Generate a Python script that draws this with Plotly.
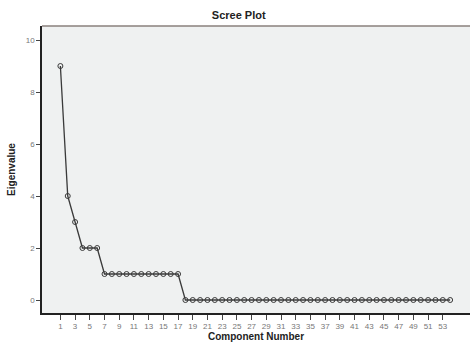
import plotly.graph_objects as go

components = list(range(1, 55))
eigenvalues = [9, 4, 3, 2, 2, 2] + [1] * 11 + [0] * 37
x_ticks = list(range(1, 54, 2))
y_ticks = [0, 2, 4, 6, 8, 10]

fig = go.Figure()
fig.add_trace(go.Scatter(
    x=components, y=eigenvalues, mode="lines+markers",
    line=dict(color="#3a3a3a", width=1.3),
    marker=dict(symbol="circle-open", size=5, color="#3a3a3a", line=dict(width=1)),
    showlegend=False, hoverinfo="skip",
))

fig.update_layout(
    width=470, height=345,
    margin=dict(l=42, r=0, t=26, b=32),
    paper_bgcolor="white",
    plot_bgcolor="#eff1f1",
    title=dict(text="<b>Scree Plot</b>", x=0.508, xanchor="center", y=0.955, yanchor="middle",
               font=dict(family="Liberation Sans, Arial", size=11, color="#222")),
    font=dict(family="Liberation Sans, Arial", color="#555"),
    xaxis=dict(
        range=[-1.5, 56.7], tickvals=x_ticks, ticktext=[str(v) for v in x_ticks],
        showgrid=False, zeroline=False, showline=True, linecolor="#222", linewidth=1.5,
        ticks="outside", ticklen=5, tickcolor="#444", tickfont=dict(size=8, color="#777"),
        title=dict(text="<b>Component Number</b>", font=dict(size=10, color="#222"), standoff=3),
    ),
    yaxis=dict(
        range=[-0.5, 10.54], tickvals=y_ticks, ticktext=[str(v) for v in y_ticks],
        showgrid=False, zeroline=False, showline=True, linecolor="#222", linewidth=1.5,
        ticks="outside", ticklen=4, tickcolor="#444", tickfont=dict(size=8, color="#777"),
        title=dict(text="<b>Eigenvalue</b>", font=dict(size=10, color="#222"), standoff=8),
    ),
    shapes=[dict(type="line", xref="paper", yref="paper", x0=0, x1=1, y0=1, y1=1,
                 line=dict(color="#8a807c", width=1.5))],
)

fig.write_html("out.html", config={"displayModeBar": False},
               post_script="document.body.style.margin='0';")
